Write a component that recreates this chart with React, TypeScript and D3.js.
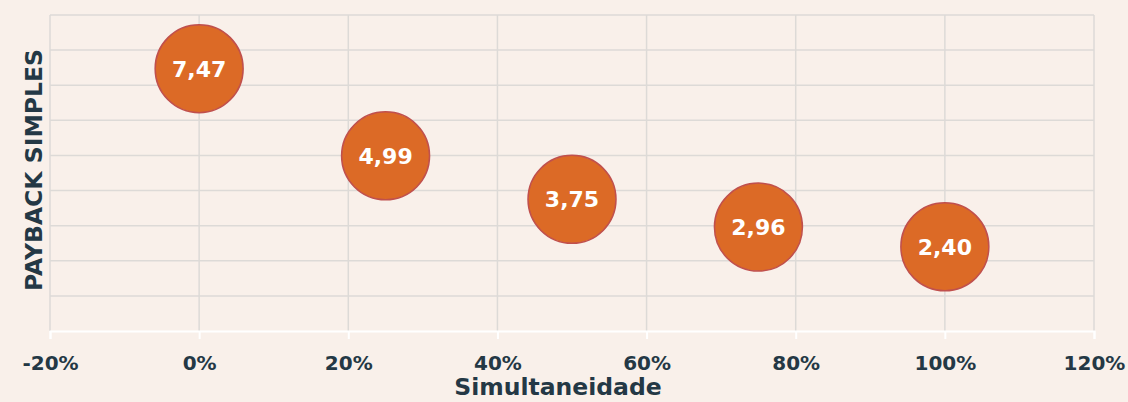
import { useEffect, useRef } from 'react';
import * as d3 from 'd3';

const simultaneidade = [0, 0.25, 0.5, 0.75, 1.0];
const payback = [7.47, 4.99, 3.75, 2.96, 2.4];
const xTicks = [-0.2, 0, 0.2, 0.4, 0.6, 0.8, 1.0, 1.2];
const yGrid = [1, 2, 3, 4, 5, 6, 7, 8, 9];

const W = 1128;
const H = 402;
const FONT = '"DejaVu Sans", "Noto Sans", sans-serif';

const App = () => {
  const svgRef = useRef<SVGSVGElement>(null);

  useEffect(() => {
    if (!svgRef.current) return;
    const root = d3.select(svgRef.current);
    root.selectAll('*').remove();

    root.append('rect').attr('width', W).attr('height', H).attr('fill', '#F9F0EA');

    const x = d3.scaleLinear().domain([-0.2, 1.2]).range([50, 1094]);
    const y = d3.scaleLinear().domain([0, 9]).range([331, 15]);

    // Grid
    root
      .append('g')
      .selectAll('line')
      .data(yGrid)
      .enter()
      .append('line')
      .attr('x1', x(-0.2))
      .attr('x2', x(1.2))
      .attr('y1', d => y(d))
      .attr('y2', d => y(d))
      .attr('stroke', '#DDDAD7')
      .attr('stroke-width', 1.5);

    root
      .append('g')
      .selectAll('line')
      .data(xTicks)
      .enter()
      .append('line')
      .attr('x1', d => x(d))
      .attr('x2', d => x(d))
      .attr('y1', y(9))
      .attr('y2', y(0))
      .attr('stroke', '#DDDAD7')
      .attr('stroke-width', 1.5);

    // X axis
    const xAxis = d3
      .axisBottom(x)
      .tickValues(xTicks)
      .tickSize(8)
      .tickPadding(17)
      .tickFormat(d => `${Math.round(+d * 100)}%`);

    const gx = root.append('g').attr('transform', `translate(0,${y(0)})`).call(xAxis);
    gx.select('.domain').attr('stroke', '#FFFFFF').attr('stroke-width', 2);
    gx.selectAll('.tick line').attr('stroke', '#FFFFFF').attr('stroke-width', 2);
    gx.selectAll('.tick text')
      .attr('fill', '#243845')
      .attr('font-family', FONT)
      .attr('font-weight', 700)
      .attr('font-size', 20);

    // Bubbles
    const pts = simultaneidade.map((s, i) => ({ s, v: payback[i] }));
    const g = root.append('g');
    g.selectAll('circle')
      .data(pts)
      .enter()
      .append('circle')
      .attr('cx', d => x(d.s))
      .attr('cy', d => y(d.v))
      .attr('r', 44)
      .attr('fill', '#DC6A26')
      .attr('stroke', '#C0504D')
      .attr('stroke-width', 1.5);

    g.selectAll('text')
      .data(pts)
      .enter()
      .append('text')
      .attr('x', d => x(d.s))
      .attr('y', d => y(d.v))
      .attr('dy', '0.36em')
      .attr('text-anchor', 'middle')
      .attr('fill', '#FFFFFF')
      .attr('font-family', FONT)
      .attr('font-weight', 700)
      .attr('font-size', 22)
      .text(d => d.v.toFixed(2).replace('.', ','));

    // Titles
    root
      .append('text')
      .attr('x', 558)
      .attr('y', 395)
      .attr('text-anchor', 'middle')
      .attr('fill', '#243845')
      .attr('font-family', FONT)
      .attr('font-weight', 700)
      .attr('font-size', 23.5)
      .text('Simultaneidade');

    root
      .append('text')
      .attr('transform', `translate(42,${170}) rotate(-90)`)
      .attr('text-anchor', 'middle')
      .attr('fill', '#243845')
      .attr('font-family', FONT)
      .attr('font-weight', 700)
      .attr('font-size', 23.5)
      .text('PAYBACK SIMPLES');
  }, []);

  return (
    <svg
      ref={svgRef}
      width={W}
      height={H}
      style={{ position: 'absolute', left: 0, top: 0, display: 'block' }}
    />
  );
};

export default App;
